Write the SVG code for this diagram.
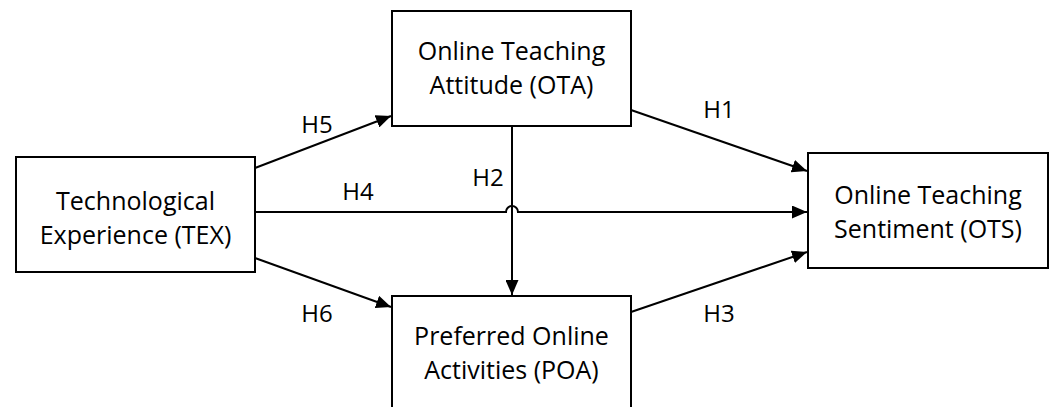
<svg xmlns="http://www.w3.org/2000/svg" width="1051" height="407" viewBox="0 0 1051 407">
<style>
.box{fill:#fff;stroke:#000;stroke-width:2}
.t{font-family:"Open Sans","Liberation Sans",sans-serif;font-size:25px;fill:#000;text-anchor:middle}
.l{font-family:"Open Sans","Liberation Sans",sans-serif;font-size:24px;fill:#000;text-anchor:middle}
.c{fill:none;stroke:#000;stroke-width:2}
</style>
<defs>
<marker id="ah" markerUnits="userSpaceOnUse" markerWidth="16" markerHeight="13" refX="15" refY="6.5" orient="auto">
<path d="M0,0 L15,6.5 L0,13 z" fill="#000"/>
</marker>
</defs>
<g id="connectors">
<path class="c" d="M255,168 L391,116" marker-end="url(#ah)"/>
<path class="c" d="M255,212 H506 A6,6 0 0 1 518,212 H807" marker-end="url(#ah)"/>
<path class="c" d="M255,258 L391,307" marker-end="url(#ah)"/>
<path class="c" d="M631,110 L807,171" marker-end="url(#ah)"/>
<path class="c" d="M631,312 L807,252" marker-end="url(#ah)"/>
<path class="c" d="M512,126 V295" marker-end="url(#ah)"/>
<text class="l" x="317" y="133">H5</text>
<text class="l" x="358" y="200">H4</text>
<text class="l" x="317" y="322">H6</text>
<text class="l" x="488" y="186">H2</text>
<text class="l" x="719" y="118">H1</text>
<text class="l" x="719" y="322">H3</text>
</g>
<g id="TEX">
<rect class="box" x="16" y="157" width="239" height="115"/>
<text class="t" x="135.5" y="210">Technological</text>
<text class="t" x="135.5" y="244">Experience (TEX)</text>
</g>
<g id="OTA">
<rect class="box" x="392" y="11" width="239" height="115"/>
<text class="t" x="511.5" y="60">Online Teaching</text>
<text class="t" x="511.5" y="94">Attitude (OTA)</text>
</g>
<g id="POA">
<rect class="box" x="392" y="296" width="239" height="130"/>
<text class="t" x="511.5" y="345">Preferred Online</text>
<text class="t" x="511.5" y="379">Activities (POA)</text>
</g>
<g id="OTS">
<rect class="box" x="808" y="153" width="240" height="115"/>
<text class="t" x="928" y="204">Online Teaching</text>
<text class="t" x="928" y="238">Sentiment (OTS)</text>
</g>
</svg>
